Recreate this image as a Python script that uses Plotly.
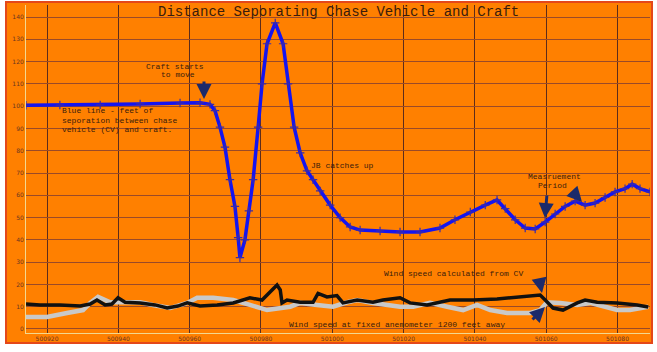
import plotly.graph_objects as go

# ---- data ----
dist_x = [500914.1, 500923.6, 500934.9, 500946.1, 500957.3, 500962.9, 500965.7, 500967.1,
          500968.5, 500969.9, 500971.3, 500972.7, 500973.6, 500974.1, 500975.5, 500976.6,
          500977.8, 500979.2, 500980.3, 500981.7, 500984.0, 500986.2, 500987.6, 500989.3,
          500991.0, 500992.9, 500994.6, 500996.6, 500999.4, 501002.2, 501005.0, 501007.8,
          501013.4, 501019.0, 501024.6, 501030.2, 501034.4, 501038.7, 501042.9, 501046.2,
          501048.5, 501051.3, 501054.1, 501056.9, 501059.7, 501062.5, 501065.3, 501068.1,
          501070.9, 501073.7, 501076.5, 501079.3, 501082.1, 501084.1, 501086.3, 501089.1]
dist_y = [100.4, 100.5, 100.6, 101.0, 101.4, 101.5, 100.8, 98.0,
          90.6, 81.6, 67.0, 55.0, 41.0, 32.0, 40.0, 53.0,
          67.0, 90.6, 110.0, 128.0, 137.4, 128.0, 110.0, 90.6,
          79.0, 71.0, 67.0, 62.0, 55.6, 50.0, 45.8, 44.4,
          44.0, 43.5, 43.5, 45.3, 49.0, 52.5, 55.6, 57.9,
          54.0, 49.0, 45.3, 44.9, 48.0, 51.6, 55.0, 57.4,
          55.6, 56.5, 59.0, 61.5, 63.0, 65.0, 63.0, 61.5]

cv_x = [500914.1, 500918.0, 500923.6, 500929.3, 500932.1, 500934.0, 500936.3, 500938.2,
        500939.9, 500941.9, 500946.1, 500950.3, 500953.7, 500956.7, 500959.3, 500962.9,
        500967.7, 500972.2, 500976.9, 500980.3, 500984.5, 500985.4, 500985.9, 500987.3,
        500991.0, 500994.6, 500996.0, 500998.5, 501001.3, 501003.0, 501007.0, 501011.4,
        501014.2, 501019.0, 501021.8, 501026.6, 501033.0, 501039.5, 501046.2, 501053.5,
        501058.3, 501059.7, 501061.9, 501064.7, 501068.7, 501070.9, 501074.3, 501079.9,
        501085.5, 501088.6]
cv_y = [11.2, 10.8, 10.8, 10.3, 11.2, 13.0, 10.8, 11.2,
        14.0, 12.0, 11.7, 10.8, 9.4, 10.3, 11.7, 10.3,
        10.8, 11.7, 14.0, 13.0, 19.7, 17.5, 11.7, 13.0,
        12.0, 12.0, 16.0, 14.4, 15.0, 11.7, 13.0, 12.0,
        13.0, 14.0, 11.7, 10.8, 13.0, 13.0, 13.5, 14.4,
        15.2, 13.0, 9.4, 8.5, 11.7, 13.0, 12.0, 11.7,
        10.8, 9.9]

anem_x = [500914.1, 500920.0, 500925.6, 500930.1, 500932.1, 500934.3, 500937.7, 500940.5,
          500946.1, 500949.7, 500954.5, 500959.3, 500962.1, 500966.6, 500972.2, 500976.9,
          500981.7, 500988.2, 500991.0, 500995.7, 501000.2, 501004.2, 501007.0, 501011.4,
          501019.0, 501022.7, 501027.4, 501032.2, 501036.7, 501040.6, 501044.3, 501049.0,
          501055.5, 501058.3, 501060.2, 501063.9, 501068.7, 501072.3, 501076.0, 501079.9,
          501083.5, 501088.6]
anem_y = [5.4, 5.4, 7.2, 8.5, 11.7, 14.4, 12.0, 12.0,
          12.0, 10.8, 9.4, 11.7, 14.0, 14.0, 13.0, 10.8,
          8.5, 10.0, 11.7, 10.8, 10.0, 12.0, 13.0, 11.7,
          10.0, 10.0, 11.7, 10.0, 8.5, 10.8, 8.5, 7.2,
          7.2, 8.5, 12.0, 11.7, 10.8, 11.7, 10.0, 8.5,
          8.5, 10.0]

x_ticks = [500920, 500940, 500960, 500980, 501000, 501020, 501040, 501060, 501080]
x_tick_text = ["500920", "500940", "500960", "500980", "501000", "501020", "501040", "501060", "501080"]
y_ticks = list(range(0, 141, 10))

title_text = "Distance Seporating Chase Vehicle and Craft"

# ---- figure ----
W, H = 657, 352
ML, MR, MT, MB = 26, 7, 5, 19
PW, PH = W - ML - MR, H - MT - MB


def px(x):
    return (x - ML) / PW


def py(y):
    return (H - MB - y) / PH


fig = go.Figure()
fig.add_trace(go.Scatter(x=anem_x, y=anem_y, mode="lines",
                         line=dict(color="#c9c9c9", width=4.5), hoverinfo="skip"))
fig.add_trace(go.Scatter(x=cv_x, y=cv_y, mode="lines",
                         line=dict(color="#111111", width=3.5), hoverinfo="skip"))
fig.add_trace(go.Scatter(x=dist_x, y=dist_y, mode="lines+markers",
                         line=dict(color="#1414f0", width=3.5),
                         marker=dict(symbol="cross-thin", size=6,
                                     line=dict(color="#3a2aa8", width=1.2)),
                         hoverinfo="skip"))

mono = "Liberation Mono, Courier New, monospace"
txtc = "#3a1c0c"
ann = []


def label(text, x, y, anchor="left", size=8):
    ann.append(dict(text=text, xref="paper", yref="paper", x=px(x), y=py(y),
                    xanchor=anchor, yanchor="middle", showarrow=False,
                    font=dict(family=mono, size=size, color=txtc)))


def arrow(hx, hy, tx, ty):
    ann.append(dict(text="", xref="paper", yref="paper", x=px(hx), y=py(hy),
                    axref="pixel", ayref="pixel", ax=tx - hx, ay=ty - hy,
                    showarrow=True, arrowhead=2, arrowsize=1.0, arrowwidth=3,
                    arrowcolor="#1c2a6a"))


label(title_text, 338, 12, "center", 14)
label("Craft starts", 175, 66, "center")
label("to move", 178, 75, "center")
label("Blue line - feet of", 60, 111)
label("seporation between chase", 60, 120)
label("vehicle (CV) and craft.", 60, 129)
label("JB catches up", 309, 165)
label("Measruement", 554, 176, "center")
label("Period", 552, 186, "center")
label("Wind speed calculated from CV", 382, 273)
label("Wind speed at fixed anemometer 1200 feet away", 287, 324)

arrow(204, 99, 204, 80)
arrow(545, 218, 547, 194)
arrow(582, 202, 571, 190)
arrow(542, 293, 539, 278)
arrow(545, 307, 531, 321)

shapes = [dict(type="rect", xref="paper", yref="paper", layer="below",
               x0=px(6), x1=px(652), y0=py(343), y1=py(2),
               fillcolor="#ff8000", line=dict(color="#e4481a", width=2))]

fig.update_layout(
    width=W, height=H,
    margin=dict(l=ML, r=MR, t=MT, b=MB),
    paper_bgcolor="white",
    plot_bgcolor="rgba(0,0,0,0)",
    showlegend=False,
    annotations=ann,
    shapes=shapes,
    xaxis=dict(range=[500914.1, 501089.1], tickvals=x_ticks, ticktext=x_tick_text,
               showgrid=True, gridcolor="#5c2c1c", gridwidth=1,
               zeroline=False, showline=True, linecolor="#f2d890", linewidth=1,
               ticks="", tickfont=dict(family="DejaVu Sans", size=6, color="#6a3420")),
    yaxis=dict(range=[-1.8, 145.4], tickvals=y_ticks,
               showgrid=True, gridcolor="#9a4a28", gridwidth=1,
               zeroline=False, showline=True, linecolor="#f2d890", linewidth=1,
               ticks="", tickfont=dict(family="DejaVu Sans", size=6, color="#6a3420")),
)

fig.write_html("out.html")
